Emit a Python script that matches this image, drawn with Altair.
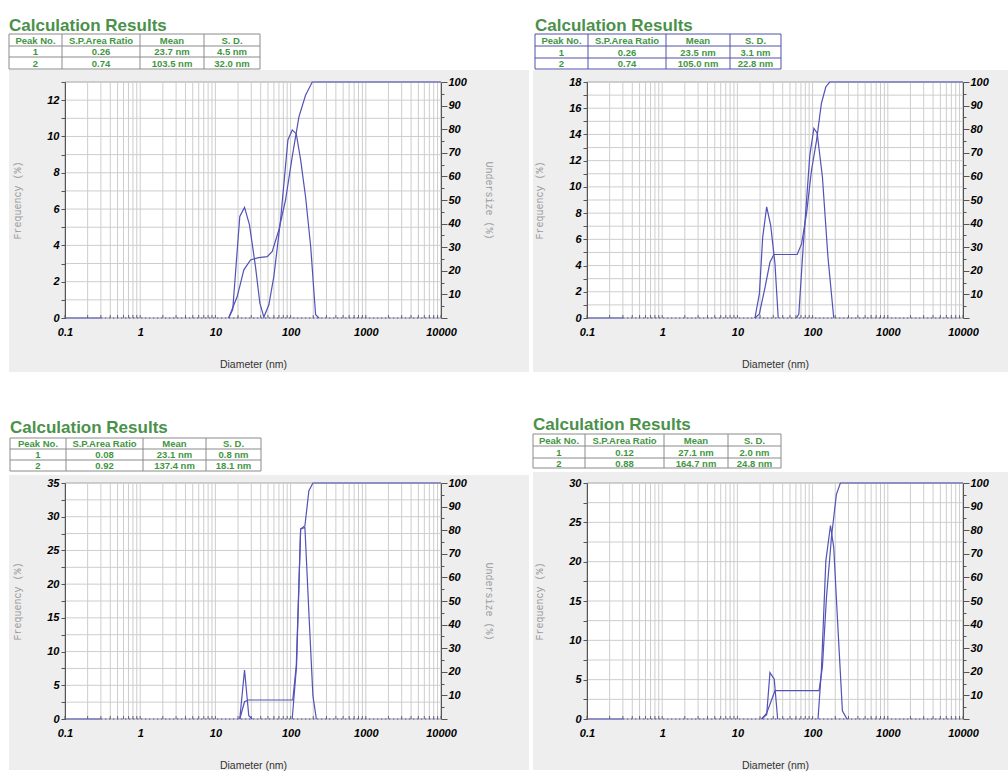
import altair as alt
import pandas as pd

W, H = 376, 236
LINE = "#5252b8"
GREEN = "#4a914a"
TXT_GREEN = "#3f963f"
GRID = "#cdcdcd"
GRAY_BG = "#eeeeee"
FONT = "Liberation Sans"
MONO = "Liberation Mono"

# ---------------- data ----------------
col_headers = ["Peak No.", "S.P.Area Ratio", "Mean", "S. D."]
peak_no = ["1", "2"]

p1_ratio = ["0.26", "0.74"]
p1_mean = ["23.7 nm", "103.5 nm"]
p1_sd = ["4.5 nm", "32.0 nm"]

p2_ratio = ["0.26", "0.74"]
p2_mean = ["23.5 nm", "105.0 nm"]
p2_sd = ["3.1 nm", "22.8 nm"]

p3_ratio = ["0.08", "0.92"]
p3_mean = ["23.1 nm", "137.4 nm"]
p3_sd = ["0.8 nm", "18.1 nm"]

p4_ratio = ["0.12", "0.88"]
p4_mean = ["27.1 nm", "164.7 nm"]
p4_sd = ["2.0 nm", "24.8 nm"]

x_labels = [0.1, 1, 10, 100, 1000, 10000]
x_grid = [k * 10.0 ** e for e in range(-1, 4) for k in range(1, 10)] + [10000]

baseline_solid_d = [0.1, 0.3]
baseline_dotted_d = [0.3, 10000]

# panel 1
p1_freq_d = [15.0, 17.0, 21.1, 24.4, 28.4, 34.1, 39.0, 44.1, 51.4, 59.9, 73.6,
             92.1, 105.2, 119.0, 136.0, 158.0, 185.0, 215.0, 239.0]
p1_freq_v = [0.0, 0.46, 5.59, 6.09, 5.13, 2.84, 0.82, 0.05, 0.73, 2.29, 5.41,
             9.81, 10.36, 10.14, 8.71, 6.69, 3.94, 0.18, 0.0]
p1_und_d = [15.0, 19.5, 23.9, 29.3, 37.8, 48.9, 57.0, 69.8, 85.7, 105.0, 129.0,
            158.0, 194.0, 10000]
p1_und_v = [0.0, 9.1, 20.4, 24.6, 25.6, 26.0, 28.2, 37.3, 50.0, 68.3, 85.2,
            94.4, 100.0, 100.0]

# panel 2
p2_peak1_d = [17.1, 19.6, 21.7, 24.5, 27.7, 31.6, 34.9]
p2_peak1_v = [0.0, 1.84, 6.17, 8.47, 7.07, 4.13, 0.0]
p2_peak2_d = [61.1, 65.6, 74.9, 91.8, 104.0, 115.0, 135.0, 160.0, 191.0]
p2_peak2_v = [0.0, 0.3, 5.4, 12.4, 14.47, 14.09, 10.77, 4.64, 0.0]
p2_und_d = [17.1, 19.6, 23.3, 27.1, 30.6, 62.4, 71.3, 83.0, 96.7, 113.0, 131.0,
            150.0, 169.0, 10000]
p2_und_v = [0.0, 1.7, 13.0, 23.6, 26.9, 26.9, 31.4, 44.2, 62.6, 75.4, 91.0,
            98.0, 100.0, 100.0]

# panel 3
p3_peak1_d = [21.1, 24.4, 27.8, 30.8]
p3_peak1_v = [0.0, 7.27, 0.49, 0.0]
p3_peak2_d = [105.0, 120.0, 136.0, 155.0, 175.0, 198.0, 220.0]
p3_peak2_v = [0.0, 7.9, 28.2, 28.4, 15.8, 3.46, 0.0]
p3_und_d = [21.1, 24.4, 27.2, 107.0, 119.0, 136.0, 155.0, 175.0, 198.0, 10000]
p3_und_v = [0.0, 7.3, 8.05, 8.05, 22.6, 80.5, 81.9, 96.7, 100.0, 100.0]

# panel 4
p4_peak1_d = [21.0, 24.5, 27.1, 30.9, 34.3]
p4_peak1_v = [0.0, 0.54, 5.89, 5.05, 0.0]
p4_peak2_d = [118.0, 131.0, 150.0, 173.0, 191.0, 218.0, 249.0, 286.0]
p4_peak2_v = [0.0, 6.2, 20.1, 24.6, 21.8, 11.3, 1.05, 0.0]
p4_und_d = [21.0, 24.5, 31.6, 122.0, 135.0, 153.0, 178.0, 207.0, 234.0, 10000]
p4_und_v = [0.0, 2.5, 12.0, 12.0, 22.1, 51.6, 76.9, 95.1, 100.0, 100.0]

# ---------------- layout (pixels relative to plot origin) ----------------
geom1 = {"gray": (-56, 464, -12, 290), "tx": -56, "ty": -51,
         "cols": [-56, -3, 75, 139, 195], "rows": [-48, -36, -25, -13]}
geom2 = {"gray": (-54, 421, -12, 290), "tx": -52, "ty": -51,
         "cols": [-52, 1, 79, 143, 194], "rows": [-48, -36, -24, -13]}
geom3 = {"gray": (-56, 464, -8, 287), "tx": -55, "ty": -50,
         "cols": [-55, 1, 78, 141, 196], "rows": [-45, -34, -23, -12]}
geom4 = {"gray": (-54, 421, -11, 287), "tx": -54, "ty": -53,
         "cols": [-54, -2, 77, 141, 194], "rows": [-49, -37, -25, -15]}


def make_panel(geom, segs, und_d, und_v, ymax, ystep, ymajor,
               ratio, mean, sd, border, right_title):
    one = pd.DataFrame({"k": [0]})
    gx0, gx1, gy0, gy1 = geom["gray"]
    layers = [
        alt.Chart(one).mark_rect(color=GRAY_BG).encode(
            x=alt.value(gx0), x2=alt.value(gx1), y=alt.value(gy0), y2=alt.value(gy1)),
        alt.Chart(one).mark_rect(fill="white", stroke="#a4a4a4", strokeWidth=1).encode(
            x=alt.value(0), x2=alt.value(W), y=alt.value(0), y2=alt.value(H)),
        alt.Chart(one).mark_text(text="Calculation Results", align="left",
                                 baseline="alphabetic", font=FONT, fontSize=17,
                                 fontWeight="bold", color=GREEN).encode(
            x=alt.value(geom["tx"]), y=alt.value(geom["ty"])),
    ]
    cols, rows = geom["cols"], geom["rows"]
    for yv in rows:
        layers.append(alt.Chart(one).mark_rule(color=border, strokeWidth=1).encode(
            x=alt.value(cols[0]), x2=alt.value(cols[-1]), y=alt.value(yv)))
    for xv in cols:
        layers.append(alt.Chart(one).mark_rule(color=border, strokeWidth=1).encode(
            x=alt.value(xv), y=alt.value(rows[0]), y2=alt.value(rows[-1])))
    table_rows = [col_headers,
                  [peak_no[0], ratio[0], mean[0], sd[0]],
                  [peak_no[1], ratio[1], mean[1], sd[1]]]
    for ri, row in enumerate(table_rows):
        yc = (rows[ri] + rows[ri + 1]) / 2 + 0.5
        for ci, s in enumerate(row):
            xc = (cols[ci] + cols[ci + 1]) / 2
            layers.append(alt.Chart(one).mark_text(
                text=s, align="center", baseline="middle", font=FONT,
                fontSize=9.5, fontWeight="bold", color=TXT_GREEN).encode(
                x=alt.value(xc), y=alt.value(yc)))

    xscale = alt.Scale(type="log", domain=[0.1, 10000], nice=False)
    yscale = alt.Scale(domain=[0, ymax], nice=False, zero=True)
    uscale = alt.Scale(domain=[0, 100], nice=False)

    n = int(round(ymax / ystep))
    y_vals = [round(i * ystep, 3) for i in range(n + 1)]

    x_axis = alt.Axis(values=x_labels, labelExpr="format(datum.value, '~g')",
                      ticks=False, domain=False, grid=False,
                      labelFont=FONT, labelFontSize=11, labelFontWeight="bold",
                      labelFontStyle="italic", labelColor="black", labelPadding=8,
                      labelOverlap=False, labelFlush=False,
                      title="Diameter (nm)", titleFont=FONT, titleFontSize=10.5,
                      titleFontWeight="normal", titleColor="#333333",
                      titlePadding=22, zindex=1)
    y_axis = alt.Axis(orient="left", values=y_vals,
                      labelExpr=f"datum.value % {ymajor} == 0 ? format(datum.value, '~g') : ''",
                      tickSize=4, tickColor="#555555", domainColor="#555555",
                      grid=False, labelFont=FONT, labelFontSize=11,
                      labelFontWeight="bold", labelFontStyle="italic",
                      labelColor="black", labelPadding=2, labelOverlap=False,
                      labelFlush=False,
                      title="Frequency (%)", titleFont=MONO, titleFontSize=10,
                      titleFontWeight="normal", titleColor="#9a9a9a",
                      titlePadding=24, zindex=1)
    r_axis = alt.Axis(orient="right", values=list(range(0, 101, 5)),
                      labelExpr="datum.value % 10 == 0 && datum.value > 0 ? datum.label : ''",
                      tickSize={"condition": {"test": "datum.value % 10 == 0", "value": 6}, "value": 3},
                      tickColor="#555555", domainColor="#555555", grid=False,
                      labelFont=FONT, labelFontSize=11, labelFontWeight="bold",
                      labelFontStyle="italic", labelColor="black", labelPadding=1,
                      labelOverlap=False, labelFlush=False,
                      title="Undersize (%)" if right_title else None,
                      titleFont=MONO, titleFontSize=10, titleFontWeight="normal",
                      titleColor="#9a9a9a", titlePadding=17, zindex=1)

    X = alt.X("d:Q", scale=xscale, axis=x_axis)
    Y = alt.Y("v:Q", scale=yscale, axis=y_axis)

    gx = alt.Chart(pd.DataFrame({"d": x_grid})).mark_rule(
        color=GRID, strokeWidth=1).encode(x=X)
    gy = alt.Chart(pd.DataFrame({"v": y_vals})).mark_rule(
        color=GRID, strokeWidth=1).encode(y=Y)
    # small inward ticks along the bottom edge at the log grid positions
    xt = alt.Chart(pd.DataFrame({"d": x_grid})).mark_rule(
        color="#666666", strokeWidth=1).encode(x=X, y=alt.value(H - 3), y2=alt.value(H))
    base = alt.Chart(pd.DataFrame({"d": baseline_solid_d, "v": [0, 0]})).mark_line(
        color=LINE, strokeWidth=1.2).encode(x=X, y=Y)
    dots = alt.Chart(pd.DataFrame({"d": baseline_dotted_d, "v": [0, 0]})).mark_line(
        color=LINE, strokeWidth=1, strokeDash=[1.5, 2.5]).encode(x=X, y=Y)

    recs = []
    for si, (dd, vv) in enumerate(segs):
        for a, b in zip(dd, vv):
            recs.append({"d": a, "v": b, "seg": si})
    freq = alt.Chart(pd.DataFrame(recs)).mark_line(color=LINE, strokeWidth=1.2).encode(
        x=X, y=Y, detail="seg:N")
    und = alt.Chart(pd.DataFrame({"d": und_d, "u": und_v})).mark_line(
        color=LINE, strokeWidth=1.2).encode(
        x=X, y=alt.Y("u:Q", scale=uscale, axis=r_axis))

    fg = alt.layer(gx, gy, xt, dots, base, freq)
    return alt.layer(*layers, fg, und).resolve_scale(y="independent").properties(
        width=W, height=H)


p1 = make_panel(geom1, [(p1_freq_d, p1_freq_v)], p1_und_d, p1_und_v, 13, 1, 2,
                p1_ratio, p1_mean, p1_sd, "#8a8a8a", True)
p2 = make_panel(geom2, [(p2_peak1_d, p2_peak1_v), (p2_peak2_d, p2_peak2_v)],
                p2_und_d, p2_und_v, 18, 1, 2, p2_ratio, p2_mean, p2_sd, "#5050a8", False)
p3 = make_panel(geom3, [(p3_peak1_d, p3_peak1_v), (p3_peak2_d, p3_peak2_v)],
                p3_und_d, p3_und_v, 35, 2.5, 5, p3_ratio, p3_mean, p3_sd, "#8a8a8a", True)
p4 = make_panel(geom4, [(p4_peak1_d, p4_peak1_v), (p4_peak2_d, p4_peak2_v)],
                p4_und_d, p4_und_v, 30, 2.5, 5, p4_ratio, p4_mean, p4_sd, "#8a8a8a", False)

chart = alt.concat(p1, p2, p3, p4, columns=2,
                   spacing={"row": 165, "column": 146}, bounds="flush").properties(
    padding={"left": 8, "top": 17, "right": 0, "bottom": 0},
    background="white",
).configure_view(stroke=None)

chart.save("out.html", embed_options={"renderer": "svg", "actions": False})
